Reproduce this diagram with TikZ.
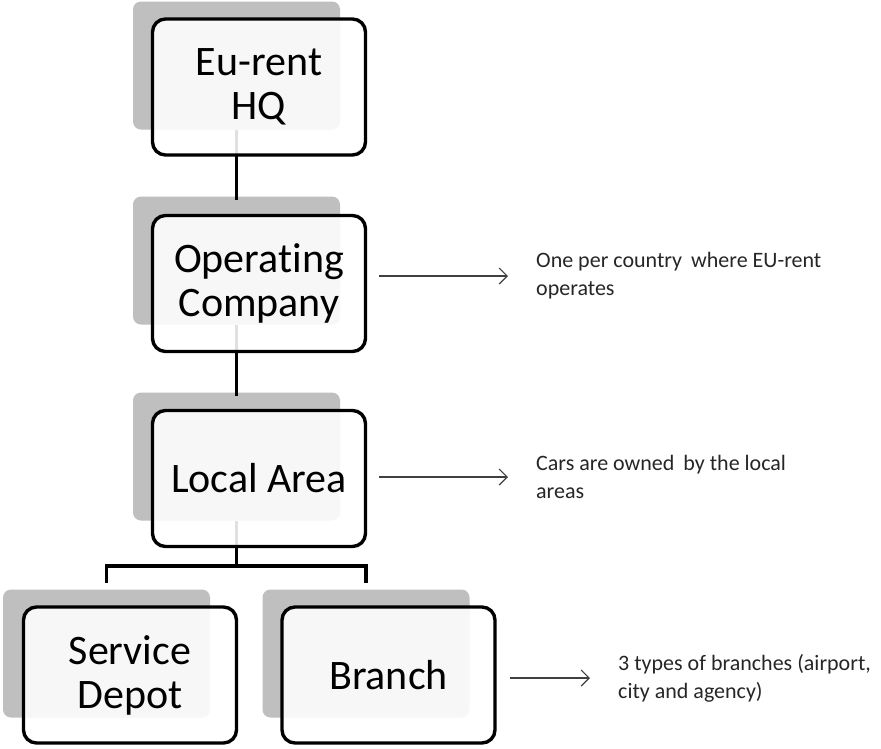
\documentclass[tikz,border=0pt]{standalone}
\usepackage{fontspec}
\setmainfont[Ligatures=NoCommon]{Carlito}
\usetikzlibrary{arrows.meta}

\tikzset{
  backplate/.style={fill=black!25, draw=none, rounded corners=8pt,
    minimum width=207pt, minimum height=128pt, inner sep=0pt},
  unitbox/.style={draw=black, line width=3.4pt, fill=white, fill opacity=0.88,
    draw opacity=1, text opacity=1, rounded corners=13pt,
    minimum width=213pt, minimum height=136pt, inner sep=0pt, align=center,
    font=\fontsize{42pt}{44pt}\selectfont},
  link/.style={line width=3.2pt, black},
  note/.style={anchor=west, inner sep=0pt, align=left, text=black!85,
    font=\fontsize{22pt}{28pt}\selectfont},
  pointer/.style={line width=1.2pt, black!75,
    -{Straight Barb[length=8pt,width=16pt,line width=1.2pt]}}
}

\begin{document}
\begin{tikzpicture}[x=1pt, y=-1pt]
\useasboundingbox (0,0) rectangle (881,748);

% grey backing plates
\node[backplate] (hqs) at (236.5,65.5) {};
\node[backplate] (ops) at (236.5,260.5) {};
\node[backplate] (las) at (236.5,456.5) {};
\node[backplate] (sds) at (106.5,653.5) {};
\node[backplate] (brs) at (366,653.5) {};

% hierarchy links between the plates
\coordinate (fork) at (236.5,566);
\coordinate (sdtop) at (106.5,583);
\coordinate (brtop) at (366,583);
\draw[link] (hqs.south) -- ([yshift=-4pt]ops.north);
\draw[link] (ops.south) -- ([yshift=-4pt]las.north);
\draw[link] (las.south) -- (fork);
\draw[link, line join=miter] (sdtop) |- (fork) -| (brtop);

% framed units
\node[unitbox] (hq) at (259,87) {Eu-rent\\HQ};
\node[unitbox] (op) at (259,283.5) {Operating\\Company};
\node[unitbox] (la) at (259,478.5) {Local Area};
\node[unitbox] (sd) at (130,675) {Service\\Depot};
\node[unitbox] (br) at (388.5,675) {Branch};

% remarks
\node[note] (n1) at (536,276) {One per country\hspace{4pt} where EU-rent\\operates};
\node[note] (n2) at (536,477) {Cars are owned\hspace{4pt} by the local\\areas};
\node[note] (n3) at (618,678) {3 types of branches (airport,\\city and agency)};

\draw[pointer] ([xshift=12pt]op.east |- n1.west) -- ([xshift=-28pt]n1.west);
\draw[pointer] ([xshift=12pt]la.east |- n2.west) -- ([xshift=-28pt]n2.west);
\draw[pointer] ([xshift=13pt]br.east |- n3.west) -- ([xshift=-28pt]n3.west);
\end{tikzpicture}
\end{document}
